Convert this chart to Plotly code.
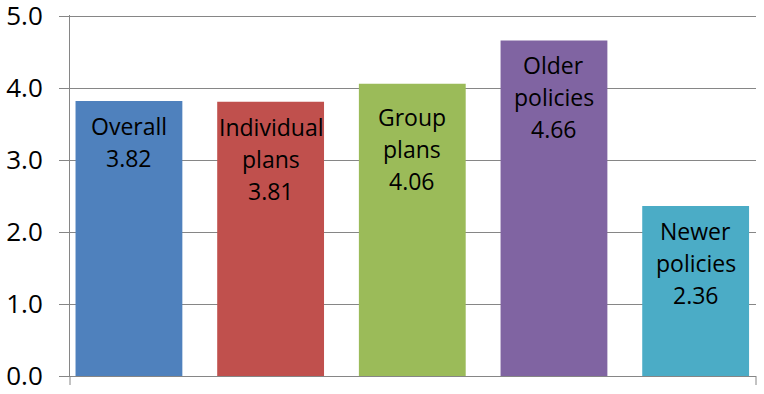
import plotly.graph_objects as go

categories = ["Overall", "Individual plans", "Group plans", "Older policies", "Newer policies"]
label_lines = [["Overall"], ["Individual", "plans"], ["Group", "plans"], ["Older", "policies"], ["Newer", "policies"]]
values = [3.82, 3.81, 4.06, 4.66, 2.36]
colors = ["#4F81BD", "#C0504D", "#9BBB59", "#8064A2", "#4BACC6"]
y_ticks = [0, 1, 2, 3, 4, 5]
y_ticktext = ["0.0", "1.0", "2.0", "3.0", "4.0", "5.0"]

xs = list(range(len(categories)))
fig = go.Figure()
fig.add_trace(go.Bar(x=xs, y=values, marker=dict(color=colors, line=dict(width=0)),
                     width=0.754, hoverinfo="skip", showlegend=False))

grid = "#868686"
annotations = []
for i, (lines, v) in enumerate(zip(label_lines, values)):
    all_lines = lines + [f"{v:.2f}"]
    extra = 8 if categories[i] == "Group plans" else 0
    for j, t in enumerate(all_lines):
        annotations.append(dict(x=xs[i], y=v, xref="x", yref="y", text=t, showarrow=False,
                                xanchor="center", yanchor="middle",
                                yshift=-(25 + extra + 32 * j),
                                font=dict(family="Open Sans", size=23, color="#000000")))

shapes = [
    dict(type="line", xref="paper", yref="paper", x0=0, x1=0, y0=0, y1=-9/361, line=dict(color=grid, width=1)),
    dict(type="line", xref="paper", yref="paper", x0=1, x1=1, y0=0, y1=-9/361, line=dict(color=grid, width=1)),
]

fig.update_layout(
    width=764, height=394,
    margin=dict(l=70, r=8, t=15, b=18, autoexpand=False),
    plot_bgcolor="white", paper_bgcolor="white",
    annotations=annotations, shapes=shapes,
    xaxis=dict(range=[-0.416, 4.426], showticklabels=False, showgrid=False, zeroline=False,
               showline=True, linecolor=grid, linewidth=1, ticks="", automargin=False),
    yaxis=dict(range=[0, 5.014], tickvals=y_ticks, ticktext=y_ticktext, showgrid=True, gridcolor=grid,
               gridwidth=1, zeroline=False, showline=True, linecolor=grid, linewidth=1,
               ticks="outside", ticklen=10, tickcolor=grid, automargin=False, ticklabelstandoff=11,
               ticklabeloverflow="allow",
               tickfont=dict(family="Open Sans", size=26, color="#000000")),
)

fig.write_html("out.html", config={"displayModeBar": False},
               post_script="document.body.style.margin='0';document.body.style.overflow='hidden';")
